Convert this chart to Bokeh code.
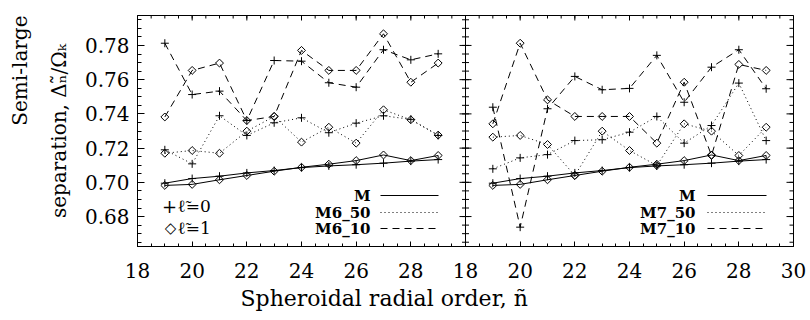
import numpy as np
from bokeh.plotting import figure
from bokeh.models import (Range1d, LinearAxis, FixedTicker, NumeralTickFormatter,
                          CustomJSTickFormatter, Span, Label, Arrow, Title)
from bokeh.embed import file_html
from bokeh.resources import INLINE

# ---------------- data ----------------
n = [19, 20, 21, 22, 23, 24, 25, 26, 27, 28, 29]

M_l0 = [0.6995, 0.7022, 0.7036, 0.7055, 0.7069, 0.7086, 0.7096, 0.7103, 0.7112, 0.7124, 0.7133]
M_l1 = [0.6982, 0.6988, 0.7015, 0.7040, 0.7065, 0.7088, 0.7106, 0.7127, 0.7160, 0.7127, 0.7157]

M6_50_l0 = [0.7190, 0.7108, 0.7389, 0.7274, 0.7348, 0.7377, 0.7290, 0.7346, 0.7389, 0.7368, 0.7274]
M6_50_l1 = [0.7170, 0.7186, 0.7170, 0.7299, 0.7385, 0.7235, 0.7322, 0.7229, 0.7424, 0.7366, 0.7276]
M6_10_l0 = [0.7813, 0.7513, 0.7533, 0.7361, 0.7712, 0.7708, 0.7582, 0.7556, 0.7775, 0.7716, 0.7751]
M6_10_l1 = [0.7382, 0.7654, 0.7697, 0.7361, 0.7385, 0.7771, 0.7654, 0.7654, 0.7868, 0.7585, 0.7697]

M7_50_l0 = [0.7079, 0.7143, 0.7162, 0.7244, 0.7249, 0.7293, 0.7385, 0.7229, 0.7332, 0.7580, 0.7244]
M7_50_l1 = [0.7264, 0.7274, 0.7221, 0.7040, 0.7299, 0.7186, 0.7098, 0.7342, 0.7299, 0.7157, 0.7322]
M7_10_l0 = [0.7439, 0.6738, 0.7430, 0.7619, 0.7541, 0.7549, 0.7742, 0.7468, 0.7673, 0.7775, 0.7547]
M7_10_l1 = [0.7342, 0.7813, 0.7482, 0.7385, 0.7385, 0.7385, 0.7229, 0.7585, 0.7157, 0.7689, 0.7654]

x_tick_labels = [18, 20, 22, 24, 26, 28, 30]
y_tick_values = [0.68, 0.70, 0.72, 0.74, 0.76, 0.78]

x_title = "Spheroidal radial order, ñ"
y_title_1 = "Semi-large"
y_title_2 = "separation, Δₙ̃/Ωₖ"
leg_l0 = "ℓ̃=0"
leg_l1 = "ℓ̃=1"

# ---------------- figure ----------------
X0, X1 = 18, 30           # each panel's x range
Y0, Y1 = 0.6625, 0.7975
span = X1 - X0

FONT = "DejaVu Serif"

p = figure(width=810, height=320,
           x_range=Range1d(X0, X1 + span), y_range=Range1d(Y0, Y1),
           extra_x_ranges={"right": Range1d(X0 - span, X1)},
           x_axis_type=None, y_axis_type=None,
           output_backend="svg", toolbar_location=None,
           min_border_left=137, min_border_right=17,
           min_border_top=15, min_border_bottom=74)
p.outline_line_color = "black"
p.outline_line_width = 1
p.background_fill_color = "white"
p.border_fill_color = "white"

# x ticks: both panels on one axis
left_ticks = [t for t in x_tick_labels if t < X1]
right_ticks = [t + span for t in x_tick_labels]
x_major = left_ticks + right_ticks
x_minor = [float(v) for v in np.arange(X0, X1 + span + 0.001, 0.5)]
y_minor = [float(v) for v in np.arange(0.665, 0.7951, 0.005)]

fmt = CustomJSTickFormatter(args=dict(split=X1, offset=span),
                            code="return String(tick >= split ? tick - offset : tick);")


def style_axis(ax, major_in, minor_in, size):
    ax.axis_line_color = "black"
    ax.major_tick_line_color = "black"
    ax.minor_tick_line_color = "black"
    ax.major_tick_in = major_in
    ax.major_tick_out = 0
    ax.minor_tick_in = minor_in
    ax.minor_tick_out = 0
    ax.major_label_text_font = FONT
    ax.major_label_text_color = "black"
    ax.major_label_text_font_size = size


xb = LinearAxis(ticker=FixedTicker(ticks=x_major, minor_ticks=x_minor), formatter=fmt)
style_axis(xb, 5, 3, "20px")
xb.major_label_standoff = 16
p.add_layout(xb, "below")

yl = LinearAxis(ticker=FixedTicker(ticks=y_tick_values, minor_ticks=y_minor),
                formatter=NumeralTickFormatter(format="0.00"))
style_axis(yl, 7, 4, "20px")
yl.major_label_standoff = 8
p.add_layout(yl, "left")

# inward ticks on the top edge, the right edge and the shared middle border
# (markers centred on the edge; the frame clips their outer half)
x_right_edge = X1 + span
tick_sets = [
    (x_major, [Y1] * len(x_major), np.pi / 2, 10),
    (x_minor, [Y1] * len(x_minor), np.pi / 2, 6),
    ([x_right_edge] * len(y_tick_values), y_tick_values, 0, 14),
    ([x_right_edge] * len(y_minor), y_minor, 0, 8),
    ([X1] * len(y_tick_values), y_tick_values, 0, 12),
    ([X1] * len(y_minor), y_minor, 0, 7),
]
for xs, ys, ang, sz in tick_sets:
    p.scatter(x=xs, y=ys, marker="dash", angle=ang, size=sz, line_color="black", line_width=1)

p.add_layout(Span(location=X1, dimension="height", line_color="black", line_width=1))

DASH = {"M": "solid", "50": "1 3", "10": "7 5"}


def draw(vals, dash, sym, rng):
    kw = {} if rng is None else {"x_range_name": rng}
    p.line(n, vals, line_color="black", line_width=1, line_dash=dash, **kw)
    if sym == "+":
        p.scatter(n, vals, marker="cross", size=8, line_color="black", line_width=1, **kw)
    else:
        p.scatter(n, vals, marker="square", angle=np.pi / 4, size=5.6,
                  line_color="black", fill_color=None, line_width=1, **kw)


draw(M_l0, DASH["M"], "+", None)
draw(M_l1, DASH["M"], "d", None)
draw(M6_50_l0, DASH["50"], "+", None)
draw(M6_50_l1, DASH["50"], "d", None)
draw(M6_10_l0, DASH["10"], "+", None)
draw(M6_10_l1, DASH["10"], "d", None)

draw(M_l0, DASH["M"], "+", "right")
draw(M_l1, DASH["M"], "d", "right")
draw(M7_50_l0, DASH["50"], "+", "right")
draw(M7_50_l1, DASH["50"], "d", "right")
draw(M7_10_l0, DASH["10"], "+", "right")
draw(M7_10_l1, DASH["10"], "d", "right")


def label(text, x, y, size, align="left", style="normal", font=FONT):
    p.add_layout(Label(x=x, y=y, x_units="canvas", y_units="canvas", text=text,
                       text_align=align, text_baseline="middle", text_font=font,
                       text_font_size=size, text_font_style=style, text_color="black"))


# symbol legend (left panel)
label("+", 169, 205, "18px", align="center")
label("◇", 170, 227, "15px", align="center", font="DejaVu Sans")
label(leg_l0, 177, 205, "17px")
label(leg_l1, 177, 227, "17px")

# model line-style legends: label, then sample line
for names, x_txt, x_a, x_b in [(["M", "M6_50", "M6_10"], 370, 380, 438),
                               (["M", "M7_50", "M7_10"], 695, 707, 766)]:
    for name, yy, dash in zip(names, [195, 212, 228], [DASH["M"], DASH["50"], DASH["10"]]):
        label(name, x_txt, yy, "15px", align="right", style="bold")
        p.add_layout(Arrow(x_start=x_a, y_start=yy, x_end=x_b, y_end=yy,
                           start_units="canvas", end_units="canvas",
                           start=None, end=None, line_color="black",
                           line_width=1, line_dash=dash))

# axis titles
p.add_layout(Title(text=x_title, align="left", offset=103, standoff=6,
                   text_font=FONT, text_font_size="22px", text_font_style="normal",
                   text_color="black"), "below")
p.add_layout(Title(text=y_title_2, align="center", standoff=22,
                   text_font=FONT, text_font_size="20px", text_font_style="normal",
                   text_color="black"), "left")
p.add_layout(Title(text=y_title_1, align="right", offset=0, standoff=4,
                   text_font=FONT, text_font_size="20px", text_font_style="normal",
                   text_color="black"), "left")

open("out.html", "w").write(file_html(p, INLINE))
